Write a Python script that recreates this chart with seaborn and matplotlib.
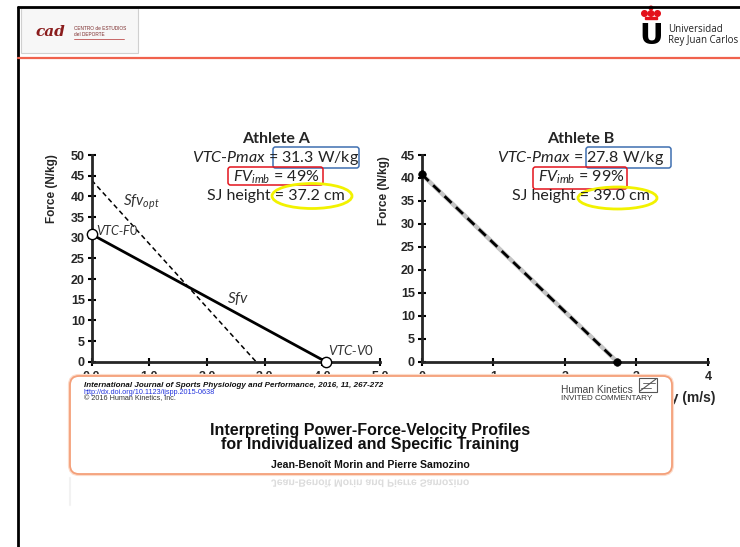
import matplotlib
matplotlib.use("Agg")
import matplotlib.pyplot as plt
import matplotlib.patches as mpatches
from matplotlib.textpath import TextPath
from matplotlib.font_manager import FontProperties
from matplotlib.transforms import Affine2D
import seaborn as sns

# values
a_velocity = [0.0, 4.06]
a_force = [30.8, 0.0]
a_opt_velocity = [0.0, 2.85]
a_opt_force = [43.9, 0.0]
b_velocity = [0.0, 2.73]
b_force = [40.8, 0.0]

athletes = ["Athlete A", "Athlete B"]
pmax = ["31.3 W/kg", "27.8 W/kg"]
fv_imb = ["49%", "99%"]
sj_height = ["37.2 cm", "39.0 cm"]

a_xticks = [0, 1, 2, 3, 4, 5]
a_xticklabels = ["0.0", "1.0", "2.0", "3.0", "4.0", "5.0"]
a_yticks = [0, 5, 10, 15, 20, 25, 30, 35, 40, 45, 50]
b_xticks = [0, 1, 2, 3, 4]
b_yticks = [0, 5, 10, 15, 20, 25, 30, 35, 40, 45]

sns.set_style("white")
plt.rcParams["font.family"] = ["Liberation Sans", "DejaVu Sans"]
plt.rcParams["mathtext.fontset"] = "custom"
plt.rcParams["mathtext.rm"] = "Lato"
plt.rcParams["mathtext.it"] = "Lato:italic"

W, H = 740, 547
fig = plt.figure(figsize=(7.4, 5.47), dpi=100)


def px_box(x0, y0, x1, y1):
    # pixel rectangle (top-left origin) -> figure fraction
    return [x0 / W, 1 - y1 / H, (x1 - x0) / W, (y1 - y0) / H]


ax_a = fig.add_axes(px_box(91.7, 155, 380, 361.7))
ax_b = fig.add_axes(px_box(421.7, 155, 708, 361.7))

# Athlete A
sns.lineplot(x=a_opt_velocity, y=a_opt_force, ax=ax_a, color="black",
             linewidth=1.1, linestyle=(0, (3.2, 2.2)))
sns.lineplot(x=a_velocity, y=a_force, ax=ax_a, color="black", linewidth=2)
sns.scatterplot(x=a_velocity, y=a_force, ax=ax_a, s=55, color="white",
                edgecolor="black", linewidth=1, zorder=5, clip_on=False)

# Athlete B
sns.lineplot(x=b_velocity, y=b_force, ax=ax_b, color="#c4c4c4", linewidth=3.2)
sns.lineplot(x=b_velocity, y=b_force, ax=ax_b, color="black",
             linewidth=2, linestyle=(0, (3.5, 2.2)))
sns.scatterplot(x=b_velocity, y=b_force, ax=ax_b, s=30, color="black",
                edgecolor="black", zorder=5, clip_on=False)

for ax, xt, xtl, yt, ylim in [
    (ax_a, a_xticks, a_xticklabels, a_yticks, 50),
    (ax_b, b_xticks, [str(v) for v in b_xticks], b_yticks, 45),
]:
    ax.set_xlim(xt[0], xt[-1])
    ax.set_ylim(0, ylim)
    ax.set_facecolor("none")
    sns.despine(ax=ax)
    ax.spines["left"].set_linewidth(2)
    ax.spines["bottom"].set_linewidth(2)
    ax.set_xticks(xt)
    ax.set_xticklabels(xtl, fontweight="bold", fontsize=9)
    ax.set_yticks(yt)
    ax.set_yticklabels([str(v) for v in yt], fontweight="bold", fontsize=9)
    ax.tick_params(direction="inout", length=6, width=1.5, color="black",
                   bottom=True, left=True, pad=2)
    ax.tick_params(axis="x", pad=3.5)
    ax.set_ylabel("Force (N/kg)", fontweight="bold", fontsize=8.5)

# x label of B is mostly hidden under the article card
ax_b.set_xlabel("Velocity (m/s)", fontweight="bold", fontsize=10, loc="right")
ax_b.xaxis.set_label_coords(1.025, -0.142)
ax_a.yaxis.set_label_coords(-0.117, 0.84)
ax_b.yaxis.set_label_coords(-0.111, 0.83)

# labels on the Athlete A profile
lab = dict(color="#333333", fontsize=11, va="center")
ax_a.text(0.55, 38.5, r"$\mathit{Sfv}_{\mathit{opt}}$", **lab)
ax_a.text(2.35, 15.2, r"$\mathit{Sfv}$", **lab)
ax_a.text(0.07, 31.6, r"$\mathit{VTC}$-$\mathit{F0}$", color="#333333", fontsize=9, va="center")
ax_a.text(4.1, 2.6, r"$\mathit{VTC}$-$\mathit{V0}$", color="#333333", fontsize=9.5, va="center")

# overlay in pixel coordinates
ov = fig.add_axes([0, 0, 1, 1], zorder=10)
ov.set_xlim(0, W)
ov.set_ylim(H, 0)
ov.axis("off")
ov.patch.set_alpha(0)

# slide frame and header
ov.plot([18, 18], [7, H], color="black", linewidth=2)
ov.plot([18, W], [7, 7], color="black", linewidth=2)
ov.plot([18, W], [58, 58], color="#f0624d", linewidth=1.6)
ov.add_patch(mpatches.Rectangle((21, 8), 117, 45, facecolor="#f7f7f7",
                                edgecolor="#d0d0d0", linewidth=0.8))
ov.text(35, 32, "cad", fontsize=11, fontweight="bold", style="italic",
        color="#8a1c1c", va="center", family="DejaVu Serif")
ov.text(74, 28.5, "CENTRO de ESTUDIOS", fontsize=3.4, color="#7a2a2a", va="center")
ov.text(74, 34.5, "del DEPORTE", fontsize=3.4, color="#7a2a2a", va="center")
ov.plot([74, 124], [38.5, 38.5], color="#c05050", linewidth=0.6)

for cx in [644.5, 651, 657.5]:
    ov.add_patch(mpatches.Circle((cx, 13.5), 2.8, color="#e3101a"))
ov.add_patch(mpatches.Rectangle((645, 17.2), 12, 1.6, color="#e3101a"))
ov.add_patch(mpatches.Circle((651, 8), 1.8, color="#e3101a"))
ov.text(651, 43.5, "U", fontsize=21, fontweight="heavy", family="DejaVu Sans",
        ha="center", va="baseline", color="black")
ov.text(668, 30, "Universidad", fontsize=7, color="#222222", va="center",
        family="Open Sans")
ov.text(668, 41, "Rey Juan Carlos", fontsize=7, color="#222222", va="center",
        family="Open Sans")

# stats above each chart
for cx, name, p, fv, sj in zip([276, 581], athletes, pmax, fv_imb, sj_height):
    ov.text(cx, 139, name, fontsize=11.5, fontweight="bold", ha="center",
            va="center", family="Lato")
    ov.text(cx, 158, r"$\mathit{VTC}$-$\mathit{Pmax}$ = " + p, fontsize=11.5,
            ha="center", va="center", family="Lato", color="#222222")
    ov.text(cx, 177, r"$\mathit{FV}_{\mathit{imb}}$ = " + fv, fontsize=11.5,
            ha="center", va="center", family="Lato", color="#222222")
    ov.text(cx, 196, "SJ height = " + sj, fontsize=11.5, ha="center",
            va="center", family="Lato", color="#222222")

for x0, x1 in [(273, 359), (586, 671)]:
    ov.add_patch(mpatches.FancyBboxPatch((x0, 147), x1 - x0, 21,
                 boxstyle="round,pad=0,rounding_size=2.5", facecolor="none",
                 edgecolor="#3f6fb0", linewidth=1.1))
for x0, x1, y1 in [(228, 323, 185), (533, 627, 189)]:
    ov.add_patch(mpatches.FancyBboxPatch((x0, 167), x1 - x0, y1 - 167,
                 boxstyle="round,pad=0,rounding_size=2.5", facecolor="none",
                 edgecolor="#e3141c", linewidth=1.1))
for cx, cy, w, h in [(312, 196, 80, 25), (617.5, 198, 79, 22)]:
    ov.add_patch(mpatches.Ellipse((cx, cy), w, h, facecolor="none",
                                  edgecolor="#f2f200", linewidth=2))

# article header card
ov.add_patch(mpatches.FancyBboxPatch((70, 376), 602, 98,
             boxstyle="round,pad=0,rounding_size=9", facecolor="none",
             edgecolor="#fcdccb", linewidth=3))
ov.add_patch(mpatches.FancyBboxPatch((70, 376), 602, 98,
             boxstyle="round,pad=0,rounding_size=9", facecolor="white",
             edgecolor="#f4a07a", linewidth=1.3))
ov.text(84, 385.5, "International Journal of Sports Physiology and Performance, 2016, 11, 267-272",
        fontsize=5.8, fontweight="bold", style="italic", va="center", color="#111111")
ov.text(84, 392.5, "http://dx.doi.org/10.1123/ijspp.2015-0638", fontsize=5.2,
        va="center", color="#2233dd")
ov.text(84, 398.5, "\u00a9 2016 Human Kinetics, Inc.", fontsize=5.2, va="center",
        color="#333333")
ov.text(561, 390, "Human Kinetics", fontsize=7.4, va="center", color="#444444")
ov.text(561, 398.5, "INVITED COMMENTARY", fontsize=5.9, va="center", color="#333333")
ov.add_patch(mpatches.Rectangle((639, 378), 18, 14, facecolor="white",
                                edgecolor="#555555", linewidth=0.8))
ov.plot([640, 656], [391, 379], color="#555555", linewidth=0.8)
ov.plot([643, 655], [383, 383], color="#555555", linewidth=0.6)
ov.plot([641, 651], [388, 388], color="#555555", linewidth=0.6)

ov.text(370, 430.5, "Interpreting Power-Force-Velocity Profiles", fontsize=11.5,
        fontweight="bold", ha="center", va="center", color="#111111")
ov.text(370, 445, "for Individualized and Specific Training", fontsize=11.5,
        fontweight="bold", ha="center", va="center", color="#111111")
author = "Jean-Beno\u00eet Morin and Pierre Samozino"
ov.text(370, 464.5, author, fontsize=7.6, fontweight="bold", ha="center",
        va="center", color="#111111")

# faint reflection of the card below it
tp = TextPath((0, 0), author, size=10.5,
              prop=FontProperties(family="Liberation Sans", weight="bold"))
ext = tp.get_extents()
tp = tp.transformed(Affine2D().translate(370 - (ext.x0 + ext.x1) / 2, 479.5))
ov.add_patch(mpatches.PathPatch(tp, facecolor="#dcdcdc", edgecolor="none"))
ov.plot([70, 70], [478, 505], color="#f2f2f2", linewidth=1.5)

fig.savefig("out.png", dpi=100)
